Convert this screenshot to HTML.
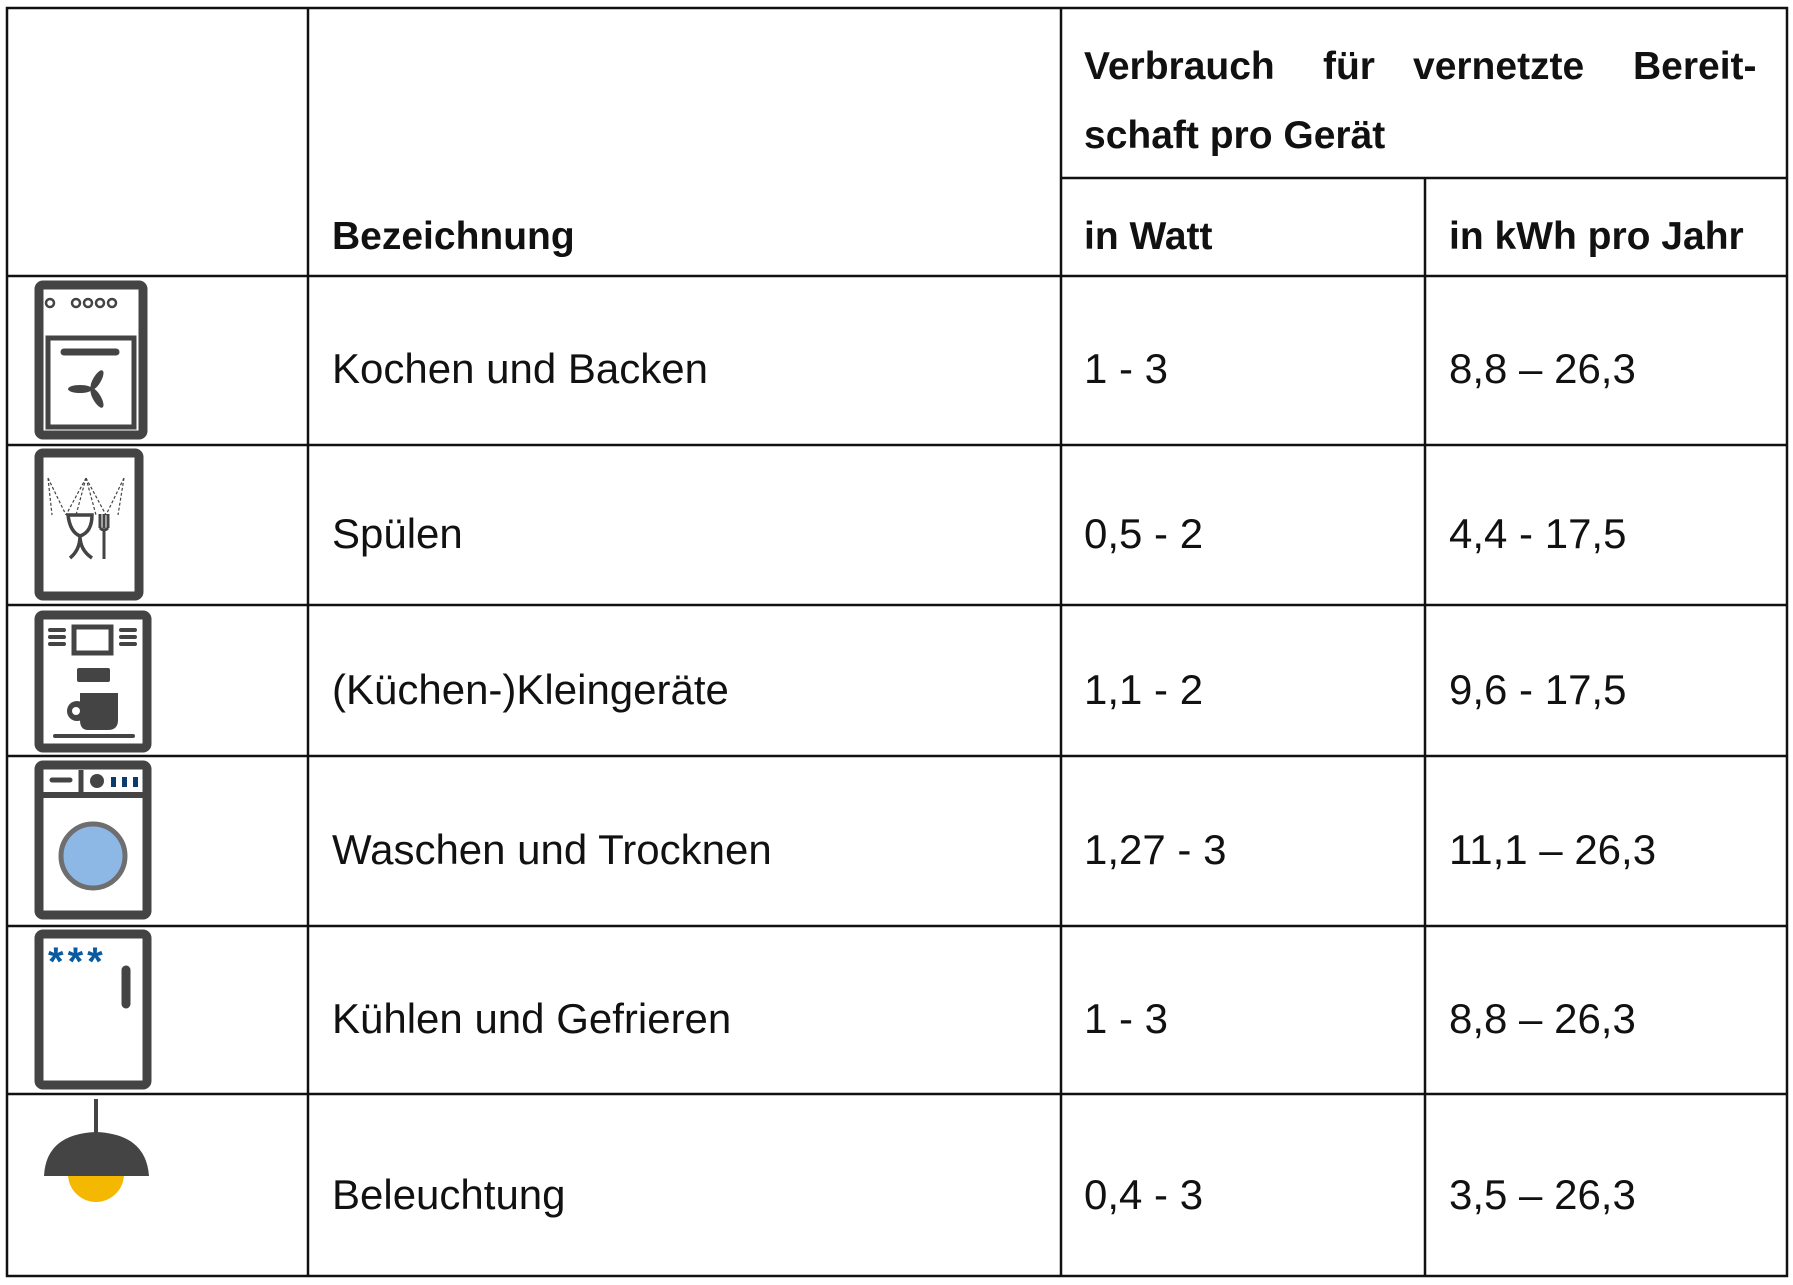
<!DOCTYPE html>
<html><head><meta charset="utf-8"><style>
html,body{margin:0;padding:0;background:#fff;}
svg{display:block;}
text{font-family:"Liberation Sans",sans-serif;fill:#111;font-size:42px;}
.b{font-weight:bold;font-size:39px;}
</style></head><body>
<svg width="1793" height="1285" viewBox="0 0 1793 1285" xmlns="http://www.w3.org/2000/svg">
<g stroke="#111" stroke-width="2.5" fill="none">
<rect x="7" y="8" width="1780" height="1268"/>
<line x1="308" y1="8" x2="308" y2="1276"/>
<line x1="1061" y1="8" x2="1061" y2="1276"/>
<line x1="1425" y1="178" x2="1425" y2="1276"/>
<line x1="1061" y1="178" x2="1787" y2="178"/>
<line x1="7" y1="276" x2="1787" y2="276"/>
<line x1="7" y1="445" x2="1787" y2="445"/>
<line x1="7" y1="605" x2="1787" y2="605"/>
<line x1="7" y1="756" x2="1787" y2="756"/>
<line x1="7" y1="926" x2="1787" y2="926"/>
<line x1="7" y1="1094" x2="1787" y2="1094"/>
</g>
<text class="b" x="1084" y="79">Verbrauch</text>
<text class="b" x="1323" y="79">für</text>
<text class="b" x="1413" y="79">vernetzte</text>
<text class="b" x="1633" y="79">Bereit-</text>
<text class="b" x="1084" y="148">schaft pro Gerät</text>
<text class="b" x="332" y="249">Bezeichnung</text>
<text class="b" x="1084" y="249">in Watt</text>
<text class="b" x="1449" y="249">in kWh pro Jahr</text>
<g>
<text x="332" y="383">Kochen und Backen</text><text x="1084" y="383">1 - 3</text><text x="1449" y="383">8,8 – 26,3</text>
<text x="332" y="548">Spülen</text><text x="1084" y="548">0,5 - 2</text><text x="1449" y="548">4,4 - 17,5</text>
<text x="332" y="704">(Küchen-)Kleingeräte</text><text x="1084" y="704">1,1 - 2</text><text x="1449" y="704">9,6 - 17,5</text>
<text x="332" y="864">Waschen und Trocknen</text><text x="1084" y="864">1,27 - 3</text><text x="1449" y="864">11,1 – 26,3</text>
<text x="332" y="1033">Kühlen und Gefrieren</text><text x="1084" y="1033">1 - 3</text><text x="1449" y="1033">8,8 – 26,3</text>
<text x="332" y="1209">Beleuchtung</text><text x="1084" y="1209">0,4 - 3</text><text x="1449" y="1209">3,5 – 26,3</text>
</g>
<!-- oven -->
<g stroke="#444" fill="none">
<rect x="39" y="285" width="104" height="150" rx="4" stroke-width="9"/>
<rect x="48" y="338" width="86" height="89" stroke-width="5"/>
<g stroke-width="2.5"><circle cx="50" cy="303" r="4"/><circle cx="76" cy="303" r="4"/><circle cx="88" cy="303" r="4"/><circle cx="100" cy="303" r="4"/><circle cx="112" cy="303" r="4"/></g>
<line x1="64" y1="352" x2="116" y2="352" stroke-width="7" stroke-linecap="round"/>
</g>
<g fill="#444"><ellipse cx="80" cy="389" rx="12" ry="4"/><ellipse cx="97" cy="380" rx="4" ry="11" transform="rotate(30 97 380)"/><ellipse cx="97" cy="398" rx="4" ry="11" transform="rotate(-30 97 398)"/></g>
<!-- dishwasher -->
<g stroke="#444" fill="none">
<rect x="39" y="453" width="100" height="143" rx="4" stroke-width="9"/>
<g stroke-width="1.2" stroke-dasharray="3,2"><path d="M48 478 L66 515 M86 478 L66 515 M86 478 L76 515 M86 478 L96 515 M86 478 L106 515 M124 478 L106 515 M124 478 L118 515 M48 478 L52 515"/></g>
<path d="M68 515 L92 515 Q92 532 80 536 Q70 532 68 515 Z M80 536 Q80 550 70 558 M80 536 Q80 550 92 558" stroke-width="3.5"/>
<path d="M100 514 L100 528 M104 514 L104 528 M108 514 L108 528 M100 528 Q104 532 108 528 M104 530 L104 559" stroke-width="3"/>
</g>
<!-- coffee -->
<g stroke="#444" fill="none">
<rect x="39" y="615" width="108" height="133" rx="4" stroke-width="9"/>
<rect x="74" y="627" width="37" height="26" stroke-width="5"/>
<path d="M50 630h14M50 637h14M50 644h14M121 630h14M121 637h14M121 644h14" stroke-width="4" stroke-linecap="round"/>
<line x1="55" y1="736" x2="133" y2="736" stroke-width="4" stroke-linecap="round"/>
</g>
<g fill="#444"><rect x="77" y="668" width="33" height="14" rx="2"/><path d="M80 693 h38 v27 q0 10 -10 10 h-20 q-8 0 -8 -10 Z"/><circle cx="77" cy="711" r="10"/></g>
<circle cx="76" cy="711" r="4" fill="#fff"/>
<!-- washer -->
<g stroke="#444" fill="none">
<rect x="39" y="765" width="108" height="150" rx="4" stroke-width="9"/>
<line x1="39" y1="795" x2="147" y2="795" stroke-width="6"/>
<line x1="81" y1="770" x2="81" y2="795" stroke-width="5"/>
<line x1="52" y1="780" x2="70" y2="780" stroke-width="5" stroke-linecap="round"/>
</g>
<circle cx="97" cy="781" r="7" fill="#444"/>
<g fill="#0b3a6c"><rect x="111" y="777" width="5" height="10"/><rect x="122" y="777" width="5" height="10"/><rect x="133" y="777" width="5" height="10"/></g>
<circle cx="93" cy="856" r="32" fill="#8db8e6" stroke="#6e6e6e" stroke-width="5"/>
<!-- fridge -->
<g stroke="#444" fill="none">
<rect x="39" y="934" width="108" height="151" rx="4" stroke-width="9"/>
<line x1="126" y1="970" x2="126" y2="1004" stroke-width="9" stroke-linecap="round"/>
</g>
<text x="48" y="975" style="fill:#0a5aa0;font-size:40px;font-weight:bold;letter-spacing:4px">***</text>
<!-- lamp -->
<line x1="96" y1="1099" x2="96" y2="1135" stroke="#444" stroke-width="4"/>
<circle cx="96" cy="1174" r="28" fill="#f5b800"/>
<path d="M44 1176 Q46 1134 96 1132 Q146 1134 149 1176 Z" fill="#444"/>
</svg>
</body></html>
